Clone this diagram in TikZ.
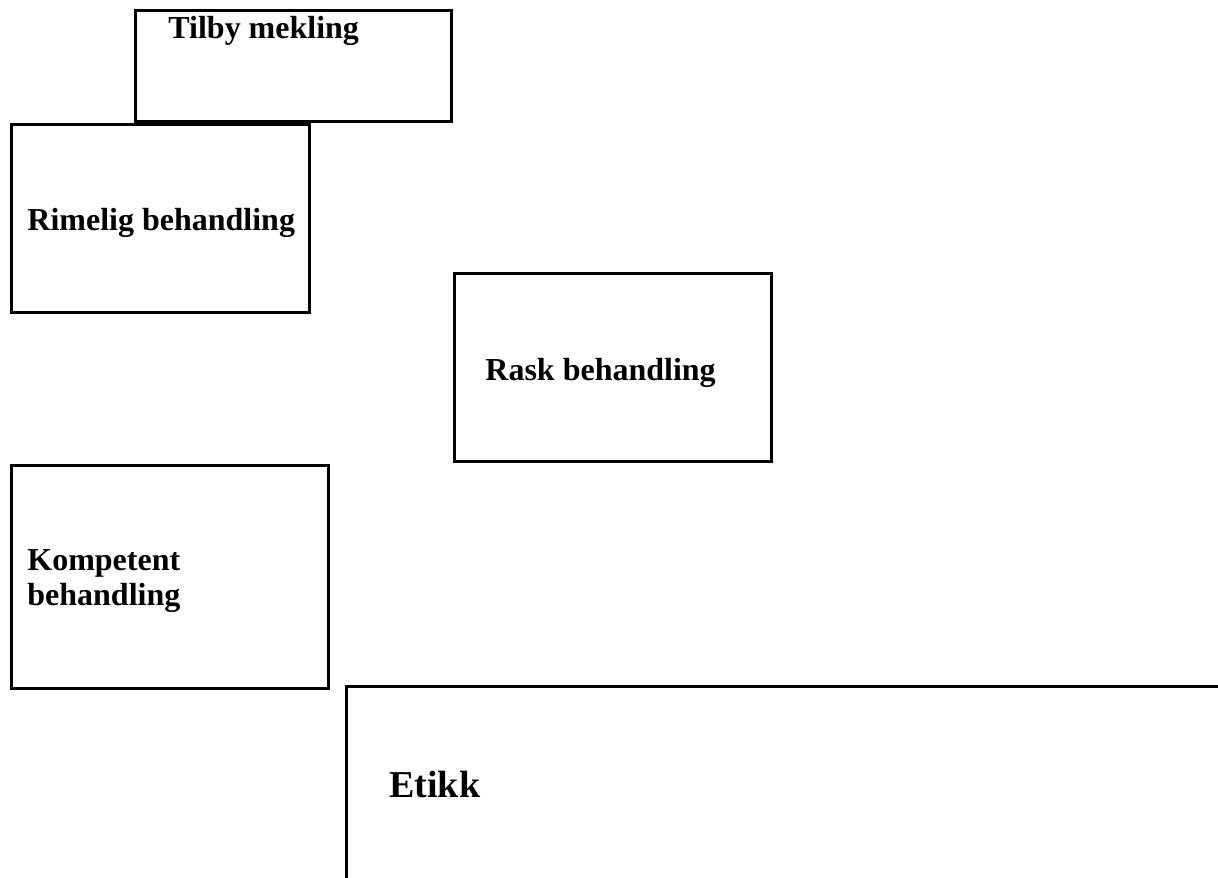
\documentclass[tikz,border=0pt]{standalone}
\usepackage{fontspec}
\setmainfont{Liberation Serif}
\usepackage{tikz}
\usetikzlibrary{positioning}
\tikzstyle{box} = [rectangle, draw=black, line width=1.5pt, inner sep=0pt]
\tikzstyle{boxtext} = [anchor=base west, inner sep=0pt, align=left, font=\fontsize{16}{17.5}\selectfont\bfseries]

\begin{document}
\begin{tikzpicture}[x=0.5pt, y=-0.5pt]
        \useasboundingbox (0,0) rectangle (1218,877);
        \clip (0,0) rectangle (1218,877);

        % Boxes
        \node (tilby) [box, minimum width=158pt, minimum height=55.5pt] at (293,66.5) {};
        \node (rimelig) [box, minimum width=149pt, minimum height=93.5pt] at (160,218.5) {};
        \node (rask) [box, minimum width=158.5pt, minimum height=94pt] at (612.5,367) {};
        \node (kompetent) [box, minimum width=158.5pt, minimum height=111.5pt] at (169.5,576.5) {};
        \node (etikk) [box, minimum width=447pt, minimum height=107pt] at (793,793) {};

        % Texts
        \node (tilby_txt) [boxtext] at (168,39) {Tilby mekling};
        \node (rimelig_txt) [boxtext] at (27,230) {Rimelig behandling};
        \node (rask_txt) [boxtext] at (485,380) {Rask behandling};
        \node (kompetent_txt) [boxtext] at (27,605) {Kompetent\\behandling};
        \node (etikk_txt) [boxtext, font=\fontsize{19}{21}\selectfont\bfseries] at (389,797) {Etikk};

    \end{tikzpicture}
\end{document}
